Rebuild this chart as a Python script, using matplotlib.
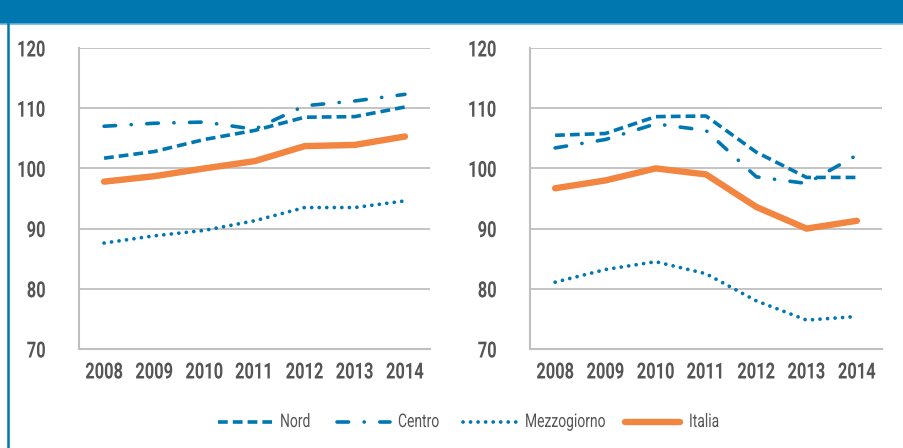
import matplotlib
matplotlib.use("Agg")
import matplotlib.pyplot as plt
from matplotlib.lines import Line2D
from matplotlib.patches import Rectangle
from matplotlib.patheffects import AbstractPathEffect
from matplotlib.transforms import Affine2D

plt.rcParams['font.family'] = ['Roboto', 'DejaVu Sans']

years = [2008, 2009, 2010, 2011, 2012, 2013, 2014]
year_labels = ["2008", "2009", "2010", "2011", "2012", "2013", "2014"]
y_ticks = [70, 80, 90, 100, 110, 120]

left_nord = [101.7, 102.8, 104.8, 106.3, 108.5, 108.6, 110.2]
left_centro = [107.0, 107.5, 107.7, 106.5, 110.4, 111.2, 112.3]
left_mezz = [87.6, 88.8, 89.7, 91.3, 93.5, 93.5, 94.6]
left_italia = [97.8, 98.7, 100.0, 101.2, 103.7, 103.9, 105.3]

right_nord = [105.5, 105.8, 108.6, 108.7, 102.7, 98.5, 98.5]
right_centro = [103.4, 104.8, 107.4, 106.3, 98.6, 97.5, 102.2]
right_mezz = [81.1, 83.2, 84.5, 82.5, 78.0, 74.8, 75.4]
right_italia = [96.7, 98.0, 100.0, 99.0, 93.6, 90.0, 91.3]

series_names = ["Nord", "Centro", "Mezzogiorno", "Italia"]

BLUE = "#0077B0"
ORANGE = "#F2853F"
GRID = "#BFBFBF"
TXT = "#555555"

W, H = 904, 448


class Condense(AbstractPathEffect):
    """Horizontally squeeze text paths to mimic a condensed typeface."""

    def __init__(self, sx=0.75, anchor="center"):
        super().__init__()
        self.sx = sx
        self.anchor = anchor

    def draw_path(self, renderer, gc, tpath, affine, rgbFace=None):
        verts = affine.transform(tpath.vertices)
        if len(verts):
            xmin, xmax = verts[:, 0].min(), verts[:, 0].max()
        else:
            xmin = xmax = 0
        if self.anchor == "left":
            cx = xmin
        elif self.anchor == "right":
            cx = xmax
        else:
            cx = 0.5 * (xmin + xmax)
        aff = affine + Affine2D().translate(-cx, 0).scale(self.sx, 1).translate(cx, 0)
        renderer.draw_path(gc, tpath, aff, rgbFace)


fig = plt.figure(figsize=(W / 100, H / 100), dpi=100)
fig.patch.set_facecolor("white")

# header band
fig.add_artist(Rectangle((0, 1 - 24 / H), 1, 24 / H, transform=fig.transFigure,
                         facecolor="#0077AF", edgecolor="none", zorder=0))
fig.add_artist(Line2D([0, 1], [1 - 24.5 / H, 1 - 24.5 / H], transform=fig.transFigure,
                      color="#6BB5DA", lw=1.2))
# left border
fig.add_artist(Line2D([7.5 / W, 7.5 / W], [0, 1 - 24 / H], transform=fig.transFigure,
                      color="#0077AF", lw=1.8))

styles = {
    "Nord": dict(color=BLUE, lw=2.6, dashes=(2.7, 1.4), dash_capstyle="butt"),
    "Centro": dict(color=BLUE, lw=2.6, dashes=(3.2, 4.3, 0.05, 4.3), dash_capstyle="round"),
    "Mezzogiorno": dict(color=BLUE, lw=2.7, dashes=(0.01, 2.0), dash_capstyle="round"),
    "Italia": dict(color=ORANGE, lw=4.6, solid_capstyle="round"),
}


def make_axes(x0, x1, data):
    ax = fig.add_axes([x0 / W, (H - 349) / H, (x1 - x0) / W, (349 - 48) / H])
    for name, vals in zip(series_names, data):
        ax.plot(years, vals, label=name, **styles[name])
    ax.set_xlim(2007.5, 2014.5)
    ax.set_ylim(70, 120)
    ax.set_yticks(y_ticks)
    ax.set_xticks(years)
    ax.set_xticklabels(year_labels)
    ax.grid(axis="y", color=GRID, lw=1.3)
    ax.set_axisbelow(True)
    for s in ["top", "right"]:
        ax.spines[s].set_visible(False)
    for s in ["left", "bottom"]:
        ax.spines[s].set_color(GRID)
        ax.spines[s].set_linewidth(1.5)
    ax.tick_params(length=0, labelsize=16, labelcolor=TXT)
    ax.tick_params(axis="y", pad=24)
    ax.tick_params(axis="x", pad=9)
    for lab in ax.get_xticklabels():
        lab.set_fontweight("bold")
        lab.set_path_effects([Condense(0.74, "center")])
    for lab in ax.get_yticklabels():
        lab.set_fontweight("bold")
        lab.set_path_effects([Condense(0.74, "right")])
    return ax


ax1 = make_axes(79, 430, [left_nord, left_centro, left_mezz, left_italia])
ax2 = make_axes(530, 882, [right_nord, right_centro, right_mezz, right_italia])

# legend (manually laid out keys)
leg_y = 1 - 422 / H
leg_line_x = [(218, 272), (337, 390), (463, 517), (625, 680)]
leg_text_x = [280, 398, 525, 689]
for name, (xa, xb), xt in zip(series_names, leg_line_x, leg_text_x):
    fig.add_artist(Line2D([xa / W, xb / W], [leg_y, leg_y], transform=fig.transFigure,
                          **styles[name]))
    fig.text(xt / W, leg_y, name, ha="left", va="center", fontsize=13.5, color=TXT,
             path_effects=[Condense(0.74, "left")])

fig.savefig("out.png", dpi=100, facecolor="white")
